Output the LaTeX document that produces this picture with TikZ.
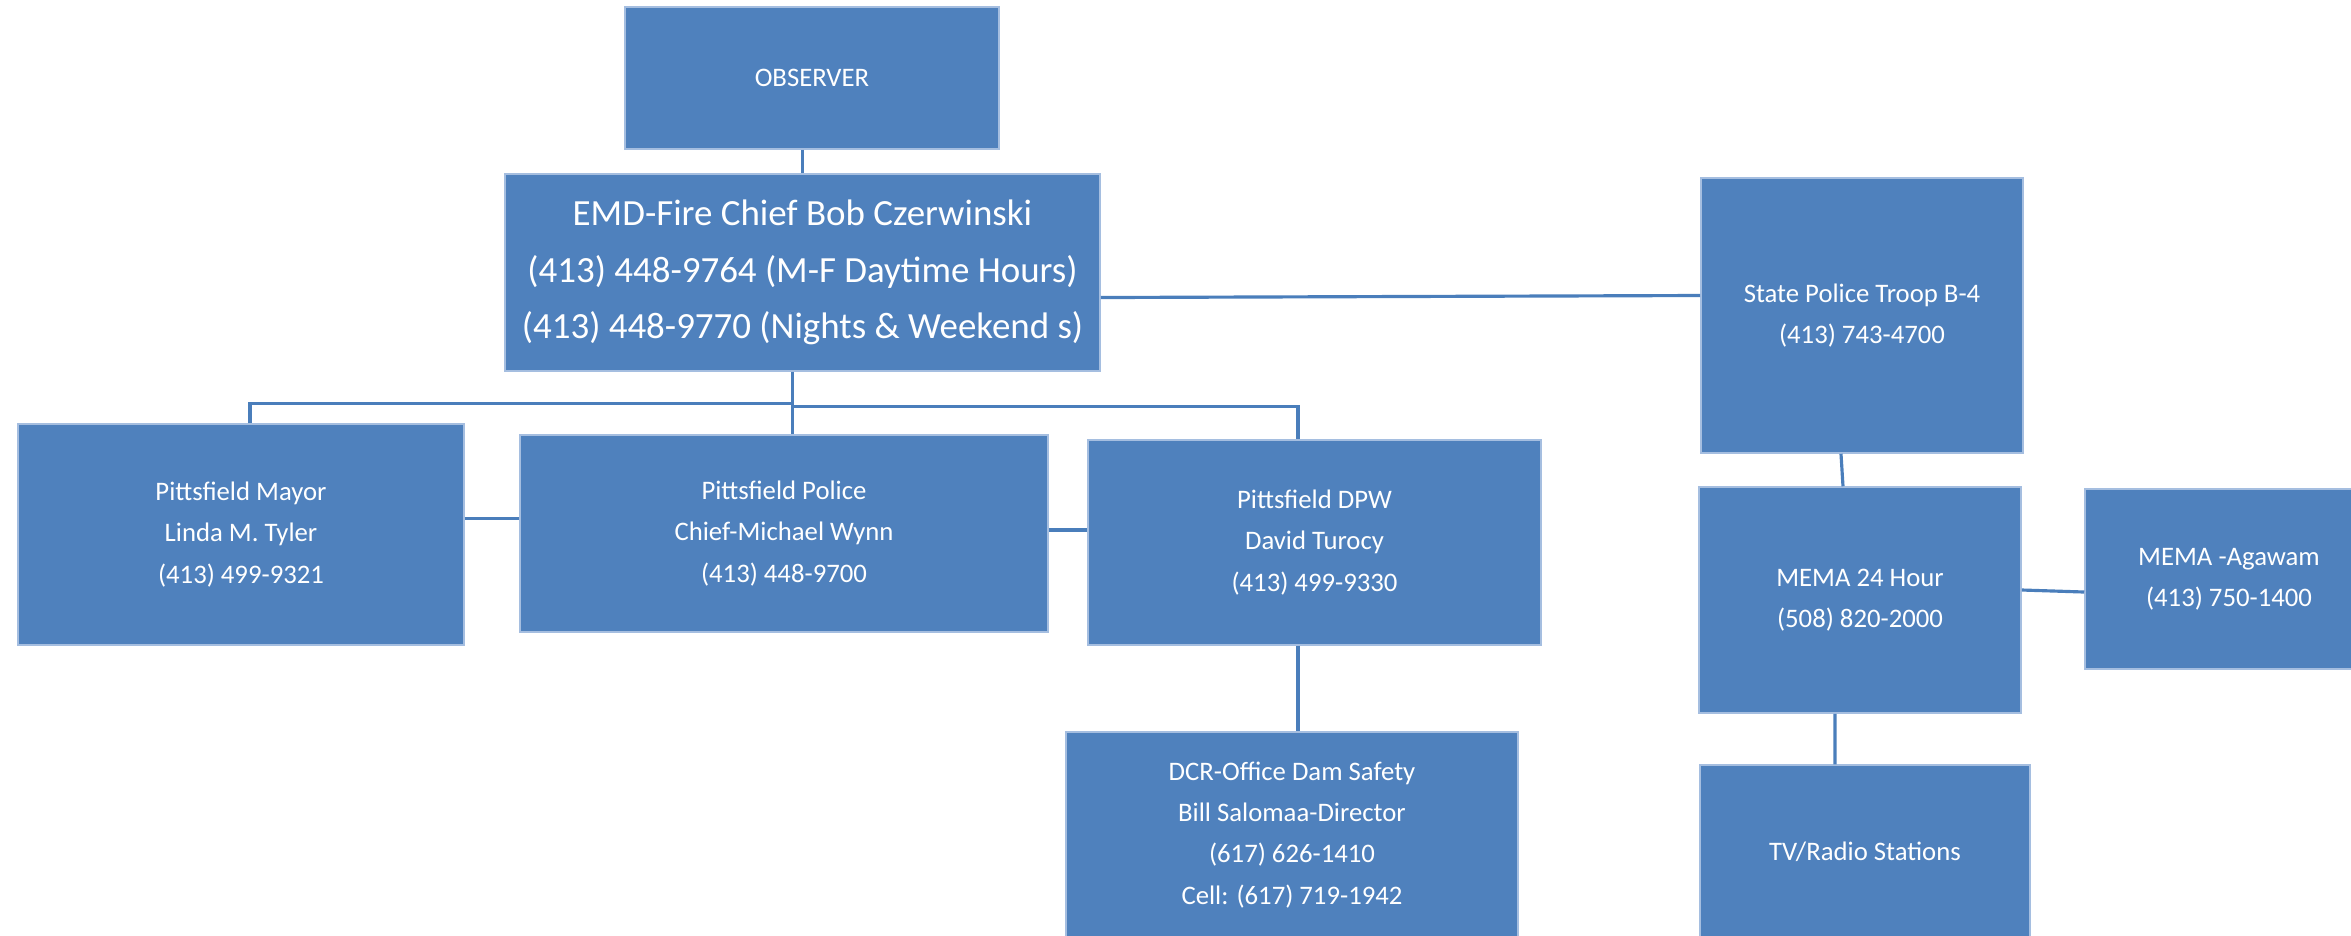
\documentclass[tikz,border=0pt]{standalone}
\usepackage{fontspec}
\setmainfont{Carlito}
\usepackage{tikz}
\definecolor{boxblue}{RGB}{79,129,189}
\definecolor{boxedge}{RGB}{165,190,224}
\definecolor{linkblue}{RGB}{74,126,187}

\begin{document}
\begin{tikzpicture}[x=0.01cm,y=-0.01cm,
  unit/.style={rectangle,fill=boxblue,draw=boxedge,line width=0.4pt,inner sep=0pt,
    text=white,align=center,font=\fontsize{7.6}{11.7}\selectfont},
  link/.style={draw=linkblue,line width=0.9pt}]
\useasboundingbox (0,0) rectangle (2351,935);
\node[unit,minimum width=3.74cm,minimum height=1.42cm] (observer) at (812,78) {OBSERVER};
\node[unit,minimum width=5.95cm,minimum height=1.97cm,font=\fontsize{10.5}{16.1}\selectfont] (emd) at (802.5,272.5)
  {EMD-Fire Chief Bob Czerwinski\\(413) 448-9764 (M-F Daytime Hours)\\(413) 448-9770 (Nights \& Weekend s)};
\node[unit,minimum width=3.22cm,minimum height=2.75cm] (troop) at (1862,315.5) {State Police Troop B-4\\(413) 743-4700};
\node[unit,minimum width=4.46cm,minimum height=2.21cm] (mayor) at (241,534.5) {Pittsfield Mayor\\Linda M. Tyler\\(413) 499-9321};
\node[unit,minimum width=5.28cm,minimum height=1.97cm] (police) at (784,533.5) {Pittsfield Police\\Chief-Michael Wynn\\(413) 448-9700};
\node[unit,minimum width=4.53cm,minimum height=2.05cm] (dpw) at (1314.5,542.5) {Pittsfield DPW\\David Turocy\\(413) 499-9330};
\node[unit,minimum width=4.52cm,minimum height=2.06cm] (dcr) at (1292,835)
  {DCR-Office Dam Safety\\Bill Salomaa-Director\\(617) 626-1410\\Cell: (617) 719-1942};
\node[unit,minimum width=3.22cm,minimum height=2.26cm] (mema) at (1860,600) {MEMA 24 Hour\\(508) 820-2000};
\node[unit,minimum width=2.88cm,minimum height=1.80cm] (agawam) at (2229,579) {MEMA -Agawam\\(413) 750-1400};
\node[unit,minimum width=3.30cm,minimum height=1.73cm] (tv) at (1865,851.5) {TV/Radio Stations};

\draw[link] (emd.north |- observer.south) -- (emd.north);
\draw[link] ([yshift=-2.5mm]emd.east) -- ([yshift=2mm]troop.west);
\draw[link] ([xshift=-1mm]emd.south) -- ([xshift=-1mm]emd.south |- police.north);
\draw[link] ([xshift=0.9mm]mayor.north) |- ([xshift=-1mm,yshift=-3.2mm]emd.south);
\draw[link] ([xshift=-1mm,yshift=-3.5mm]emd.south) -| ([xshift=-1.65mm]dpw.north);
\draw[link] ([yshift=1.6mm]mayor.east) -- ([yshift=1.6mm]mayor.east -| police.west);
\draw[link] ([yshift=0.35mm]police.east) -- ([yshift=0.35mm]police.east -| dpw.west);
\draw[link] ([xshift=-1.65mm]dpw.south) -- ([xshift=-1.65mm]dpw.south |- dcr.north);
\draw[link] ([xshift=-2.1mm]troop.south) -- ([xshift=-1.7mm]mema.north);
\draw[link] ([yshift=1mm]mema.east) -- ([yshift=-1.3mm]agawam.west);
\draw[link] ([xshift=-2.5mm]mema.south) -- ([xshift=-3mm]tv.north);
\end{tikzpicture}
\end{document}
